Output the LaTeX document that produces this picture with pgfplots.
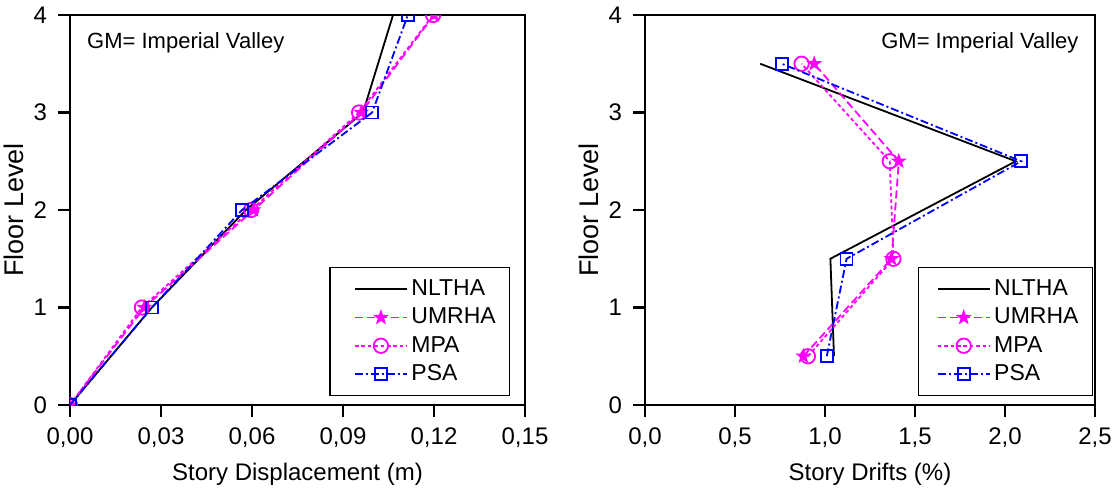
\documentclass[border=0pt]{standalone}
\usepackage{pgfplots}
\pgfplotsset{compat=1.18}
\usepackage{fontspec}
\setmainfont{Liberation Sans}
\definecolor{mag}{RGB}{255,0,255}
\definecolor{blu}{RGB}{0,0,255}
\newcommand{\fs}{\fontsize{12}{14.4}\selectfont}
\newcommand{\fl}{\fontsize{11.5}{13.8}\selectfont}
\newcommand{\fg}{\fontsize{11}{13.2}\selectfont}
\newcommand{\fy}{\fontsize{13.5}{16}\selectfont}
\newlength{\legpad}
\pgfplotsset{
  myax/.style={
    scale only axis,
    height=195pt,
    axis line style={line width=1.2pt},
    tick style={line width=1.2pt,black},
    major tick length=6pt,
    tick align=outside,
    xtick pos=bottom, ytick pos=left,
    ymin=0, ymax=4, ytick={0,1,2,3,4},
    clip marker paths=true,
    /pgf/number format/assume math mode=true,
    tick label style={font=\fs},
    xticklabel style={yshift=-2pt},
    yticklabel style={/pgf/number format/fixed,/pgf/number format/precision=0, xshift=-2pt},
    label style={font=\fs},
    ylabel style={font=\fy, yshift=-2pt},
    xlabel style={yshift=-0.5pt},
    legend style={font=\fl, draw=black, line width=0.6pt, fill=white,
      inner xsep=5pt, inner ysep=4.3pt, row sep=1.1pt,
      nodes={inner sep=1.8pt}},
    legend cell align=left,
    legend image code/.code={
      \path (0pt,0pt);
      \draw[mark repeat=2,mark phase=2] plot coordinates {(\legpad,0pt) (\legpad+13pt,0pt) (\legpad+26pt,0pt)};
    },
  },
  nl/.style={black, line width=0.9pt, mark=none},
  um/.style={color=mag, line width=0.9pt, dash pattern=on 4pt off 2pt, mark options={solid, fill=mag, draw=mag}, mark=fstar, mark size=3.8pt},
  mp/.style={color=mag, line width=0.9pt, dash pattern=on 1.8pt off 1.4pt, mark=o, mark size=3.6pt, mark options={solid, fill=white, draw=mag}},
  ps/.style={color=blu, line width=0.9pt, dash pattern=on 4pt off 1.5pt on 1pt off 1.5pt, mark=square, mark size=3pt, mark options={solid, fill=white, draw=blu}},
}
\pgfdeclareplotmark{fstar}{%
  \pgfpathmoveto{\pgfqpointpolar{90}{1.1\pgfplotmarksize}}%
  \pgfpathlineto{\pgfqpointpolar{126}{0.45\pgfplotmarksize}}%
  \pgfpathlineto{\pgfqpointpolar{162}{1.1\pgfplotmarksize}}%
  \pgfpathlineto{\pgfqpointpolar{198}{0.45\pgfplotmarksize}}%
  \pgfpathlineto{\pgfqpointpolar{234}{1.1\pgfplotmarksize}}%
  \pgfpathlineto{\pgfqpointpolar{270}{0.45\pgfplotmarksize}}%
  \pgfpathlineto{\pgfqpointpolar{306}{1.1\pgfplotmarksize}}%
  \pgfpathlineto{\pgfqpointpolar{342}{0.45\pgfplotmarksize}}%
  \pgfpathlineto{\pgfqpointpolar{18}{1.1\pgfplotmarksize}}%
  \pgfpathlineto{\pgfqpointpolar{54}{0.45\pgfplotmarksize}}%
  \pgfpathclose\pgfusepathqfill}
\begin{document}
\begin{tikzpicture}
\setlength{\legpad}{7pt}
\begin{axis}[myax,
  width=227.5pt,
  xmin=0, xmax=0.15, xtick={0,0.03,0.06,0.09,0.12,0.15},
  xticklabel style={/pgf/number format/fixed,/pgf/number format/fixed zerofill,/pgf/number format/precision=2,/pgf/number format/use comma},
  xlabel={Story Displacement (m)}, ylabel={Floor Level},
  legend style={at={(rel axis cs:0.967,0.022)}, anchor=south east},
]
\addplot[nl] coordinates {(0,0) (0.027,1) (0.058,2) (0.0966,3) (0.1065,4)};
\addplot[um] coordinates {(0,0) (0.0245,1) (0.0605,2) (0.0960,3) (0.1200,4)};
\addplot[mp] coordinates {(0,0) (0.0237,1) (0.0597,2) (0.0953,3) (0.1197,4)};
\addplot[ps] coordinates {(0,0) (0.0270,1) (0.0567,2) (0.0996,3) (0.1114,4)};
\legend{NLTHA,UMRHA,MPA,PSA}
\node[anchor=west, font=\fg, inner sep=0pt] at (rel axis cs:0.037,0.93) {GM= Imperial Valley};
\end{axis}
\setlength{\legpad}{4pt}
\begin{axis}[myax, xshift=287.5pt,
  width=225pt,
  xmin=0, xmax=2.5, xtick={0,0.5,1,1.5,2,2.5},
  xticklabel style={/pgf/number format/fixed,/pgf/number format/fixed zerofill,/pgf/number format/precision=1,/pgf/number format/use comma},
  xlabel={Story Drifts (\%)}, ylabel={Floor Level},
  legend style={at={(rel axis cs:0.995,0.022)}, anchor=south east},
]
\addplot[nl] coordinates {(1.05,0.5) (1.03,1.5) (2.06,2.5) (0.64,3.5)};
\addplot[um] coordinates {(0.88,0.5) (1.37,1.5) (1.41,2.5) (0.94,3.5)};
\addplot[mp] coordinates {(0.905,0.5) (1.38,1.5) (1.36,2.5) (0.87,3.5)};
\addplot[ps] coordinates {(1.01,0.5) (1.12,1.5) (2.09,2.5) (0.76,3.5)};
\legend{NLTHA,UMRHA,MPA,PSA}
\node[anchor=east, font=\fg, inner sep=0pt] at (rel axis cs:0.964,0.93) {GM= Imperial Valley};
\end{axis}
\pgfresetboundingbox
\path (-35pt,-42pt) rectangle (523pt,202.5pt);
\end{tikzpicture}
\end{document}
